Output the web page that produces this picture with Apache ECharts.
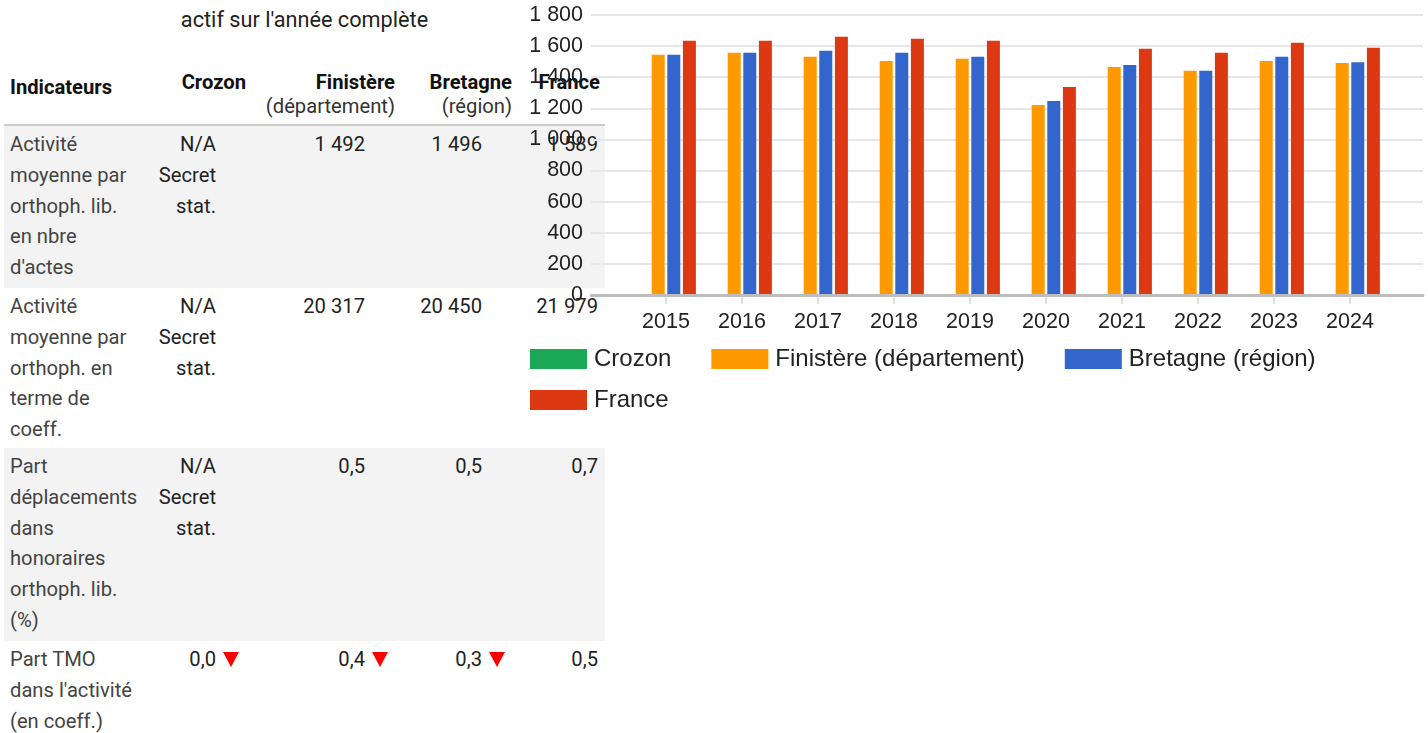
<!DOCTYPE html>
<html>
<head>
<meta charset="utf-8">
<script src="https://cdn.jsdelivr.net/npm/echarts@6/dist/echarts.min.js"></script>
<style>
  html, body { margin:0; padding:0; background:#fff; width:1428px; height:733px; overflow:hidden; }
  #caption { position:absolute; left:4px; top:5px; width:601px; text-align:center; font-family:Roboto, sans-serif; font-size:21.7px; line-height:30px; color:#222; }
  #tbl { position:absolute; left:4px; top:42px; width:601px; border-collapse:collapse; table-layout:fixed; font-family:Roboto, sans-serif; font-size:20.2px; }
  #tbl th { vertical-align:top; font-weight:700; color:#111; line-height:24px; padding:28px 5px 0 0; text-align:right; white-space:nowrap; }
  #tbl th.first { text-align:left; padding:33px 0 0 6px; }
  #tbl th .sub { font-weight:400; color:#333; }
  #tbl thead tr { height:83px; border-bottom:2px solid #cbcbcb; }
  #tbl td { vertical-align:top; line-height:30.8px; padding:3px 0 0 0; white-space:nowrap; color:#222; text-align:right; }
  #tbl td.first { text-align:left; padding-left:6px; color:#444; }
  #tbl td .val { display:inline-block; vertical-align:top; }
  #tbl td .slot { display:inline-block; width:29px; height:20px; vertical-align:top; position:relative; }
  #tbl td .pad { display:inline-block; width:6px; }
  #tbl td.last { padding-right:7px; }
  .down { position:absolute; left:7px; top:8px; width:0; height:0; border-left:8.5px solid transparent; border-right:8.5px solid transparent; border-top:15px solid #ff0000; }
  #tbl tbody tr.grey { background:#f3f3f3; }
  #chart { position:absolute; left:0; top:0; width:1428px; height:733px; z-index:5; }
</style>
</head>
<body>
<div id="caption">actif sur l'année complète</div>
<table id="tbl">
  <colgroup><col style="width:134px"><col style="width:113px"><col style="width:149px"><col style="width:117px"><col style="width:88px"></colgroup>
  <thead><tr id="headRow"></tr></thead>
  <tbody id="tbody"></tbody>
</table>
<div id="chart"></div>
<script>
// ---- chart data ----
const years = ['2015', '2016', '2017', '2018', '2019', '2020', '2021', '2022', '2023', '2024'];
const crozon = [null, null, null, null, null, null, null, null, null, null];
const finistere = [1544, 1557, 1531, 1505, 1518, 1221, 1466, 1441, 1505, 1492];
const bretagne = [1544, 1557, 1570, 1557, 1531, 1247, 1479, 1441, 1531, 1496];
const france = [1634, 1634, 1660, 1647, 1634, 1337, 1583, 1557, 1621, 1589];
const seriesNames = ['Crozon', 'Finistère (département)', 'Bretagne (région)', 'France'];

// ---- table data ----
const headMain = ['Indicateurs', 'Crozon', 'Finistère', 'Bretagne', 'France'];
const headSub = ['', '', '(département)', '(région)', ''];
const rowLabels = [
  ['Activité', 'moyenne par', 'orthoph. lib.', 'en nbre', "d'actes"],
  ['Activité', 'moyenne par', 'orthoph. en', 'terme de', 'coeff.'],
  ['Part', 'déplacements', 'dans', 'honoraires', 'orthoph. lib.', '(%)'],
  ['Part TMO', "dans l'activité", '(en coeff.)']
];
const rowCrozon = [['N/A', 'Secret', 'stat.'], ['N/A', 'Secret', 'stat.'], ['N/A', 'Secret', 'stat.'], ['0,0']];
const rowFinistere = ['1 492', '20 317', '0,5', '0,4'];
const rowBretagne = ['1 496', '20 450', '0,5', '0,3'];
const rowFrance = ['1 589', '21 979', '0,7', '0,5'];
const rowDown = [[false, false, false], [false, false, false], [false, false, false], [true, true, true]];
const rowHeights = [163, 160, 193, 93];

// build table
const hr = document.getElementById('headRow');
headMain.forEach((h, i) => {
  const th = document.createElement('th');
  if (i === 0) th.className = 'first';
  th.innerHTML = h + (headSub[i] ? '<br><span class="sub">' + headSub[i] + '</span>' : '');
  hr.appendChild(th);
});
const tb = document.getElementById('tbody');
rowLabels.forEach((lab, r) => {
  const tr = document.createElement('tr');
  if (r % 2 === 0) tr.className = 'grey';
  tr.style.height = rowHeights[r] + 'px';
  const c0 = document.createElement('td'); c0.className = 'first'; c0.innerHTML = lab.join('<br>'); tr.appendChild(c0);
  const vals = [rowCrozon[r].join('<br>'), rowFinistere[r], rowBretagne[r]];
  vals.forEach((v, k) => {
    const td = document.createElement('td');
    td.innerHTML = '<span class="val">' + v + '</span><span class="slot">' + (rowDown[r][k] ? '<span class="down"></span>' : '') + '</span><span class="pad"></span>';
    tr.appendChild(td);
  });
  const cl = document.createElement('td'); cl.className = 'last'; cl.textContent = rowFrance[r]; tr.appendChild(cl);
  tb.appendChild(tr);
});

// build chart
const fmt = v => String(v).replace(/\B(?=(\d{3})+(?!\d))/g, ' ');
const chart = echarts.init(document.getElementById('chart'), null, { renderer: 'canvas' });
const gTop = 15, gBottom = 733 - 295;
const colors = ['#1aa857', '#ff9900', '#3366cc', '#dc3912'];
const fontF = '"Liberation Sans", Arial, sans-serif';
chart.setOption({
  backgroundColor: 'transparent',
  animation: false,
  color: colors,
  grid: [
    { left: 591, right: 5, top: gTop, bottom: gBottom },
    { left: 628, right: 40, top: gTop, bottom: gBottom }
  ],
  xAxis: [
    { gridIndex: 0, type: 'value', min: 0, max: 1, z: 5,
      axisLine: { show: true, lineStyle: { color: '#bdbdbd', width: 3 } },
      axisTick: { show: false }, axisLabel: { show: false }, splitLine: { show: false } },
    { gridIndex: 1, type: 'category', data: years,
      axisLine: { show: false },
      axisTick: { show: true, alignWithLabel: true, length: 9, lineStyle: { color: '#e0e0e0', width: 2 } },
      axisLabel: { margin: 16, fontSize: 21.5, color: '#222', fontFamily: fontF } }
  ],
  yAxis: [
    { gridIndex: 0, type: 'value', min: 0, max: 1800, interval: 200,
      axisLine: { show: false }, axisTick: { show: false },
      axisLabel: { margin: 8, fontSize: 21.5, color: '#222', fontFamily: fontF, formatter: fmt },
      splitLine: { lineStyle: { color: '#e6e6e6', width: 2 } } },
    { gridIndex: 1, type: 'value', min: 0, max: 1800, interval: 200, show: false, splitLine: { show: false } }
  ],
  legend: [
    { data: seriesNames.slice(0, 3), left: 530, top: 347, padding: 0, orient: 'horizontal',
      itemWidth: 57, itemHeight: 20, itemGap: 40, icon: 'rect',
      textStyle: { fontSize: 24, color: '#222', fontFamily: fontF, padding: [0, 0, 0, 2] } },
    { data: seriesNames.slice(3), left: 530, top: 388, padding: 0,
      itemWidth: 57, itemHeight: 20, itemGap: 40, icon: 'rect',
      textStyle: { fontSize: 24, color: '#222', fontFamily: fontF, padding: [0, 0, 0, 2] } }
  ],
  series: [crozon, finistere, bretagne, france].map((d, i) => ({
    name: seriesNames[i], type: 'bar', xAxisIndex: 1, yAxisIndex: 1, data: d,
    barWidth: 13, barGap: '20%', itemStyle: { color: colors[i] }
  }))
});
</script>
</body>
</html>
